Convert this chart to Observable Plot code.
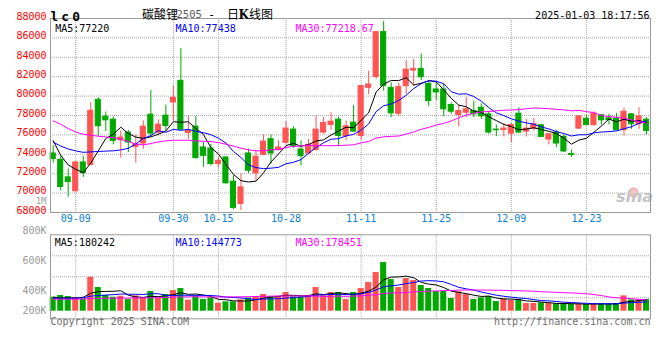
<!DOCTYPE html>
<html>
<head>
<meta charset="utf-8">
<script src="https://cdn.jsdelivr.net/npm/d3@7"></script>
<script src="https://cdn.jsdelivr.net/npm/@observablehq/plot@0.6"></script>
<style>
  html, body { margin: 0; padding: 0; background: #fff; }
  #wrap { position: relative; width: 660px; height: 360px; overflow: hidden; background: #fff; }
  #main, #vol { position: absolute; left: 0; }
  #main { top: 0; }
  #vol { top: 226px; }
</style>
</head>
<body>
<div id="wrap"><div id="main"></div><div id="vol"></div></div>
<script>
// ---- Data ----
const open = [74085,73435,71623,70187,73161,72890,79624,77880,77572,75452,
  76239,74768,75110,78085,76239,77983,79350,81572,76205,76854,
  74700,74597,72991,73674,71178,68887,74085,72033,73948,75555,
  74426,75179,76546,74495,74085,74426,76239,77025,77572,75863,
  77264,75897,80854,81983,86598,80854,78187,81026,82632,82803,
  81264,80683,80683,79077,78051,78290,78461,78803,78119,76546,
  76512,76136,78187,76341,76649,76991,75521,76239,75794,74016,
  76649,77674,76991,78017,77708,77674,76478,78119,77093,77572];
const high = [74871,73845,72479,73250,73777,79316,79829,78358,77846,76410,
  76478,76000,77435,80581,77538,79077,81026,84888,77914,77914,
  75213,75042,73674,73743,71794,71965,74529,74358,76000,76000,
  75384,77367,76820,75384,75555,77948,77777,78290,77846,77435,
  79042,81026,82564,86598,87692,81367,81299,83658,83761,84341,
  81538,81367,81196,79316,79077,79829,79487,79213,78393,77025,
  77162,77162,78803,77606,77708,77093,76068,76478,76000,74426,
  77914,78051,78393,78119,78119,78187,78803,78187,78803,77777];
const low = [73093,70255,69572,70100,71623,72890,75794,76341,74974,73606,
  74187,73093,74529,75726,75897,76410,77435,76478,75521,73503,
  72650,72820,72581,70939,68271,68203,72033,71212,73845,72991,
  74358,75042,74632,72820,74016,74358,76068,76478,74803,75384,
  76239,75452,80171,81709,80513,77777,77880,80171,81026,81606,
  78905,79555,77880,78119,76820,77777,77777,77606,76068,75829,
  75794,75213,76136,75794,76410,75726,74974,74700,74187,73674,
  76580,76923,76923,77025,77025,76410,75897,76580,76580,76000];
const close = [73503,70631,71144,73161,72067,78495,76888,77504,75384,75726,
  75213,75042,76854,76136,77059,76923,79829,76546,76410,73606,
  73845,72991,73332,71007,68477,70597,72307,73743,75316,74085,
  74700,76649,74871,73811,74974,76546,77230,77367,75897,76888,
  76341,81026,81196,86598,81026,78222,80923,82735,82803,81948,
  79487,80376,78632,78393,78461,78632,78119,77914,76239,76478,
  76649,77025,76239,76649,77093,75794,76068,75110,74290,73948,
  77914,77025,78187,77504,77538,76478,78393,77093,77914,76410];
const volume = [218400,244400,228800,202800,192400,530400,369200,244400,218400,234000,
  182000,239200,202800,306800,202800,260000,322400,353600,171600,234000,
  182000,208000,124800,145600,145600,176800,202800,228800,260000,228800,
  234000,291200,223600,223600,244400,369200,239200,291200,291200,182000,
  291200,353600,447200,603200,759200,494000,369200,509600,478400,400400,
  353600,306800,306800,197600,301600,260000,182000,208000,228800,150800,
  187200,166400,176800,119600,119600,130000,119600,114400,114400,109200,
  114400,104000,119600,119600,109200,119600,239200,176800,176800,182000];

// moving-average values before enough bars are on screen
const ma5Head = [75400,73900,72900,72450];
const ma10Head = [75250,74850,74550,74350,74200,74250,74290,74330,74360];
const ma30Head = [77450,77100,76650,76300,76070,75970,75860,75790,75720,75550,
  75320,75050,74980,75100,75280,75380,75450,75450,75450,75380,
  75350,75310,75210,75040,74840,74630,74460,74360,74360];
const volMa5Head = [218000,208000,208000,208000];
const volMa10Head = [203000,203000,203000,203000,210000,235000,245000,252000,258000];
const volMa30Head = [187000,187000,187000,188000,190000,196000,200000,202000,203000,204000,
  205000,206000,207000,209000,211000,215000,220000,223000,224000,224000,
  224000,223000,222000,222000,223000,225000,227000,229000,231000];

const tickIdx = [3,16,22,31,41,51,61,71];
const tickLabels = ["09-09","09-30","10-15","10-28","11-11","11-25","12-09","12-23"];
const priceTicks = [88000,86000,84000,82000,80000,78000,76000,74000,72000,70000,68000];
const volLabels = ["800K","600K","400K","200K"];
const volLabelAt = [1248000,780000,312000,0];

const titleName = "碳酸锂";
const titleCode = "2505";
const symbol = "lc0";
const stamp = "2025-01-03 18:17:56";
const priceLegend = ["MA5:77220","MA10:77438","MA30:77218.67"];
const volLegend = ["MA5:180242","MA10:144773","MA30:178451"];

// ---- Derived ----
const RED = "#ff5454", GREEN = "#00a800", BLUE_T = "#0a80d8";
const MA_COLORS = ["#000000", "#0000ff", "#ff00ff"];
const N = close.length;
const candles = d3.range(N).map(i => ({
  i, o: open[i], h: high[i], l: low[i], c: close[i], v: volume[i],
  col: close[i] >= open[i] ? RED : GREEN
}));
function movingAvg(vals, n, head) {
  return vals.map((_, i) => i < n - 1 ? head[i] : d3.mean(vals.slice(i - n + 1, i + 1)));
}
function series(vals) { return vals.map((v, i) => ({i, v})); }
const priceMAs = [movingAvg(close, 5, ma5Head), movingAvg(close, 10, ma10Head), movingAvg(close, 30, ma30Head)];
const volMAs = [movingAvg(volume, 5, volMa5Head), movingAvg(volume, 10, volMa10Head), movingAvg(volume, 30, volMa30Head)];

const xDomain = [-0.36, 79.53];
const dotted = {stroke: "#a8a8a8", strokeDasharray: "1,1"};
const mono = "DejaVu Sans Mono, monospace";
const cjk = "Noto Sans CJK SC, sans-serif";

const main = Plot.plot({
  width: 660, height: 226,
  marginLeft: 50, marginRight: 10, marginTop: 18, marginBottom: 14,
  x: {domain: xDomain, axis: null},
  y: {domain: [68000, 88000], axis: null},
  style: {fontFamily: mono, fontSize: "10px", background: "transparent", overflow: "visible"},
  marks: [
    Plot.ruleY(priceTicks.filter(d => d > 68000 && d < 88000), dotted),
    Plot.ruleX(tickIdx, dotted),
    Plot.text(priceTicks, {y: d => d, text: d => String(d), frameAnchor: "left", dx: -4, dy: -2, textAnchor: "end", fill: "#ff0000", fontSize: 10}),
    Plot.text(tickIdx, {x: d => d, text: (d, k) => tickLabels[k], frameAnchor: "bottom", dy: 9, fill: BLUE_T, fontSize: 10}),
    Plot.text(["1M"], {frameAnchor: "bottom-left", dx: -4, dy: -8.5, textAnchor: "end", fill: "#a0a0a0", fontSize: 9}),
    // watermark
    Plot.dot([0], {frameAnchor: "bottom-right", dx: -17, dy: -20, r: 4.5, fill: "#f6c4c4", stroke: "#ee9a9a", strokeWidth: 1}),
    Plot.text(["sina"], {frameAnchor: "bottom-right", dx: -16, dy: -11, textAnchor: "middle", fill: "#c4c4c4", fontSize: 16, fontWeight: "bold", fontStyle: "italic", fontFamily: "DejaVu Sans, sans-serif"}),
    // candles
    Plot.ruleX(candles, {x: "i", y1: "l", y2: "h", stroke: "col", strokeWidth: 1}),
    Plot.rect(candles, {x1: d => d.i - 0.34, x2: d => d.i + 0.34, y1: "o", y2: "c", fill: "col", stroke: "col", strokeWidth: 1}),
    // moving averages
    ...priceMAs.map((m, k) => Plot.line(series(m), {x: "i", y: "v", stroke: MA_COLORS[k], strokeWidth: 1})),
    Plot.frame({stroke: "#9a9a9a"}),
    // header
    Plot.text([symbol], {frameAnchor: "top-left", dx: 0, dy: -7, textAnchor: "start", fontSize: 13, fontWeight: "bold", fill: "#000"}),
    Plot.text([titleName], {frameAnchor: "top-left", dx: 91.5, dy: -8, textAnchor: "start", fontSize: 12, fontFamily: cjk, fill: "#000"}),
    Plot.text([titleCode], {frameAnchor: "top-left", dx: 126, dy: -7.5, textAnchor: "start", fontSize: 10.5, fill: "#5a5a5a"}),
    Plot.text(["-"], {frameAnchor: "top-left", dx: 161, dy: -8, textAnchor: "middle", fontSize: 12, fill: "#000"}),
    Plot.text(["日"], {frameAnchor: "top-left", dx: 176.5, dy: -8, textAnchor: "start", fontSize: 12, fontFamily: cjk, fill: "#000"}),
    Plot.text(["K"], {frameAnchor: "top-left", dx: 188, dy: -8, textAnchor: "start", fontSize: 12, fontWeight: "bold", fontFamily: "DejaVu Serif, serif", fill: "#000"}),
    Plot.text(["线图"], {frameAnchor: "top-left", dx: 198.5, dy: -8, textAnchor: "start", fontSize: 12, fontFamily: cjk, fill: "#000"}),
    Plot.text([stamp], {frameAnchor: "top-right", dx: -1, dy: -6.5, textAnchor: "end", fontSize: 10, fill: "#000"}),
    // legend
    Plot.text([priceLegend[0]], {frameAnchor: "top-left", dx: 4.7, dy: 6, textAnchor: "start", fill: MA_COLORS[0]}),
    Plot.text([priceLegend[1]], {frameAnchor: "top-left", dx: 125, dy: 6, textAnchor: "start", fill: MA_COLORS[1]}),
    Plot.text([priceLegend[2]], {frameAnchor: "top-left", dx: 245, dy: 6, textAnchor: "start", fill: MA_COLORS[2]})
  ]
});
main.querySelectorAll("text").forEach(t => { if (t.textContent === symbol) t.setAttribute("letter-spacing", "3"); });
document.getElementById("main").appendChild(main);

const volDomain = [-118560, 1191840];
const volGrid = [1, 2, 3].map(k => volDomain[0] + (volDomain[1] - volDomain[0]) * k / 4);

const vol = Plot.plot({
  width: 660, height: 104,
  marginLeft: 50, marginRight: 10, marginTop: 8.3, marginBottom: 11.7,
  x: {domain: xDomain, axis: null},
  y: {domain: volDomain, axis: null},
  style: {fontFamily: mono, fontSize: "10px", background: "transparent", overflow: "visible"},
  marks: [
    Plot.ruleY(volGrid, dotted),
    Plot.ruleX(tickIdx, dotted),
    Plot.text(volLabelAt, {y: d => d, text: (d, k) => volLabels[k], frameAnchor: "left", dx: -4, textAnchor: "end", fill: "#999999", fontSize: 10}),
    Plot.rect(candles, {x1: d => d.i - 0.4, x2: d => d.i + 0.4, y1: 0, y2: "v", fill: "col"}),
    ...volMAs.map((m, k) => Plot.line(series(m), {x: "i", y: "v", stroke: MA_COLORS[k], strokeWidth: 1})),
    Plot.frame({stroke: "#9a9a9a"}),
    Plot.text([volLegend[0]], {frameAnchor: "top-left", dx: 4.3, dy: 4, textAnchor: "start", fill: MA_COLORS[0]}),
    Plot.text([volLegend[1]], {frameAnchor: "top-left", dx: 125, dy: 4, textAnchor: "start", fill: MA_COLORS[1]}),
    Plot.text([volLegend[2]], {frameAnchor: "top-left", dx: 245, dy: 4, textAnchor: "start", fill: MA_COLORS[2]}),
    Plot.text(["Copyright 2025 SINA.COM"], {frameAnchor: "bottom-left", dx: 0, dy: 6, textAnchor: "start", fill: "#6e6e6e"}),
    Plot.text(["http://finance.sina.com.cn"], {frameAnchor: "bottom-right", dx: 0, dy: 6, textAnchor: "end", fill: "#6e6e6e"})
  ]
});
document.getElementById("vol").appendChild(vol);
</script>
</body>
</html>
